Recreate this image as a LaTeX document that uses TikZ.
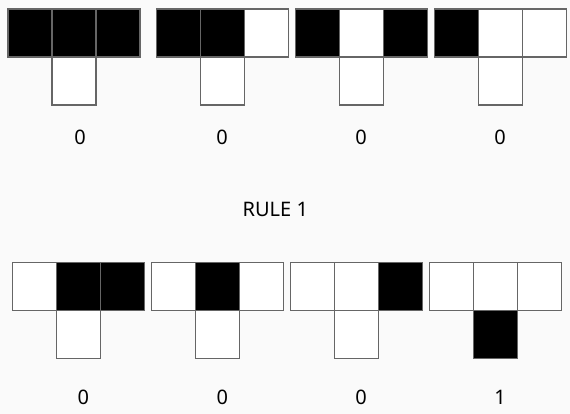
\documentclass[tikz,border=0pt]{standalone}
\usepackage{fontspec}
\setmainfont{Noto Sans}
\usepackage{xcolor}

\begin{document}
\begin{tikzpicture}[x=1pt, y=-1pt,
    cell/.style={draw=black!60, line width=1.2pt},
    lbl/.style={font=\fontsize{20}{24}\selectfont, text=black, inner sep=0pt}]
    \fill[black!2] (0,0) rectangle (570,414);
    \useasboundingbox (0,0) rectangle (570,414);
    % left / middle / right / lower cell of each pattern
    \foreach \gx/\gy/\l/\m/\r/\b in {8/9/black/black/black/white, 156.3/9/black/black/white/white,
        295.3/9/black/white/black/white, 434.3/9/black/white/white/white,
        12.7/262.5/white/black/black/white, 151.7/262.5/white/black/white/white,
        290.7/262.5/white/white/black/white, 429.7/262.5/white/white/white/black}
    {
        \filldraw[cell, fill=\l] (\gx,\gy) rectangle ++(44,48);
        \filldraw[cell, fill=\m] (\gx+44,\gy) rectangle ++(44,48);
        \filldraw[cell, fill=\r] (\gx+88,\gy) rectangle ++(44,48);
        \filldraw[cell, fill=\b] (\gx+44,\gy+48) rectangle ++(44,48);
    }
    \node[lbl] (out1) at (80,137) {0};
    \node[lbl] (out2) at (222,137) {0};
    \node[lbl] (out3) at (361,137) {0};
    \node[lbl] (out4) at (500,137) {0};
    \node[lbl] (rule) at (275.3,209) {RULE 1};
    \node[lbl] (out5) at (83.3,397.3) {0};
    \node[lbl] (out6) at (222.3,397.3) {0};
    \node[lbl] (out7) at (361,397.3) {0};
    \node[lbl] (out8) at (500,397.3) {1};
\end{tikzpicture}
\end{document}
